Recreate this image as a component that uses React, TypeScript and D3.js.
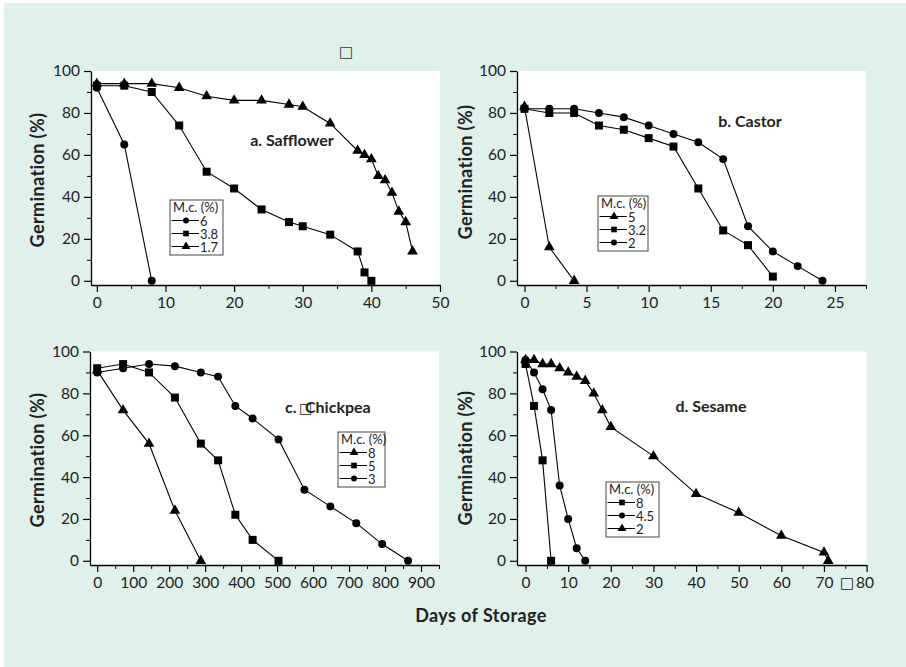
import * as d3 from "d3";
import { useEffect, useRef } from "react";

const W = 906;
const H = 667;
const FONT = "Lato, 'Open Sans', sans-serif";

// a. Safflower (days)
const safDays6 = [0, 4, 8];
const safGerm6 = [92, 65, 0];
const safDays38 = [0, 4, 8, 12, 16, 20, 24, 28, 30, 34, 38, 39, 40];
const safGerm38 = [93, 93, 90, 74, 52, 44, 34, 28, 26, 22, 14, 4, 0];
const safDays17 = [0, 4, 8, 12, 16, 20, 24, 28, 30, 34, 38, 39, 40, 41, 42, 43, 44, 45, 46];
const safGerm17 = [94, 94, 94, 92, 88, 86, 86, 84, 83, 75, 62, 60, 58, 50, 48, 42, 33, 28, 14];

// b. Castor
const casDays5 = [0, 2, 4];
const casGerm5 = [83, 16, 0];
const casDays32 = [0, 2, 4, 6, 8, 10, 12, 14, 16, 18, 20];
const casGerm32 = [82, 80, 80, 74, 72, 68, 64, 44, 24, 17, 2];
const casDays2 = [0, 2, 4, 6, 8, 10, 12, 14, 16, 18, 20, 22, 24];
const casGerm2 = [82, 82, 82, 80, 78, 74, 70, 66, 58, 26, 14, 7, 0];

// c. Chickpea
const chiDays8 = [0, 72, 144, 216, 288];
const chiGerm8 = [91, 72, 56, 24, 0];
const chiDays5 = [0, 72, 144, 216, 288, 336, 384, 432, 504];
const chiGerm5 = [92, 94, 90, 78, 56, 48, 22, 10, 0];
const chiDays3 = [0, 72, 144, 216, 288, 336, 384, 432, 504, 576, 648, 720, 792, 864];
const chiGerm3 = [90, 92, 94, 93, 90, 88, 74, 68, 58, 34, 26, 18, 8, 0];

// d. Sesame
const sesDays8 = [0, 2, 4, 6];
const sesGerm8 = [94, 74, 48, 0];
const sesDays45 = [0, 2, 4, 6, 8, 10, 12, 14];
const sesGerm45 = [96, 90, 82, 72, 36, 20, 6, 0];
const sesDays2 = [0, 2, 4, 6, 8, 10, 12, 14, 16, 18, 20, 30, 40, 50, 60, 70, 71];
const sesGerm2 = [96, 96, 94, 94, 92, 90, 88, 86, 80, 72, 64, 50, 32, 23, 12, 4, 0];

const yMajor = [0, 20, 40, 60, 80, 100];
const yMinor = [10, 30, 50, 70, 90];

const SHAPES: Record<string, d3.SymbolType> = {
  circle: d3.symbolCircle,
  square: d3.symbolSquare,
  triangle: d3.symbolTriangle,
};
const SIZE: Record<string, number> = { circle: 50, square: 64, triangle: 50 };
const LEG_SIZE: Record<string, number> = { circle: 28, square: 32, triangle: 34 };

const panels = [
  {
    title: ["a. Safflower"], titleX: 292, titleY: 146,
    xDomain: [-0.85, 50], xRange: [91, 440], yRange: [285, 71],
    xMajor: [0, 10, 20, 30, 40, 50], xMinor: [5, 15, 25, 35, 45],
    legX: 170, legY: 200, legW: 53,
    ylabX: 44, ylabY: 180,
    series: [
      { xs: safDays6, ys: safGerm6, shape: "circle", label: "6" },
      { xs: safDays38, ys: safGerm38, shape: "square", label: "3.8" },
      { xs: safDays17, ys: safGerm17, shape: "triangle", label: "1.7" },
    ],
  },
  {
    title: ["b. Castor"], titleX: 750, titleY: 127,
    xDomain: [-0.6, 27.5], xRange: [517, 866], yRange: [285, 71],
    xMajor: [0, 5, 10, 15, 20, 25], xMinor: [2.5, 7.5, 12.5, 17.5, 22.5, 27.5],
    legX: 598, legY: 196, legW: 50,
    ylabX: 472, ylabY: 172,
    series: [
      { xs: casDays5, ys: casGerm5, shape: "triangle", label: "5" },
      { xs: casDays32, ys: casGerm32, shape: "square", label: "3.2" },
      { xs: casDays2, ys: casGerm2, shape: "circle", label: "2" },
    ],
  },
  {
    title: ["c.", "\u25A1", "Chickpea"], titleX: 285, titleY: 413,
    xDomain: [-20, 950], xRange: [90, 439], yRange: [565, 351.5],
    xMajor: [0, 100, 200, 300, 400, 500, 600, 700, 800, 900],
    xMinor: [50, 150, 250, 350, 450, 550, 650, 750, 850, 950],
    legX: 338, legY: 432, legW: 47,
    ylabX: 44, ylabY: 460,
    series: [
      { xs: chiDays8, ys: chiGerm8, shape: "triangle", label: "8" },
      { xs: chiDays5, ys: chiGerm5, shape: "square", label: "5" },
      { xs: chiDays3, ys: chiGerm3, shape: "circle", label: "3" },
    ],
  },
  {
    title: ["d. Sesame"], titleX: 711, titleY: 412,
    xDomain: [-2, 80], xRange: [517, 866.6], yRange: [565, 351.5],
    xMajor: [0, 10, 20, 30, 40, 50, 60, 70, 80], xMinor: [5, 15, 25, 35, 45, 55, 65, 75],
    legX: 606, legY: 482, legW: 53,
    ylabX: 472, ylabY: 458,
    series: [
      { xs: sesDays8, ys: sesGerm8, shape: "square", label: "8" },
      { xs: sesDays45, ys: sesGerm45, shape: "circle", label: "4.5" },
      { xs: sesDays2, ys: sesGerm2, shape: "triangle", label: "2" },
    ],
  },
];

export default function App() {
  const ref = useRef<SVGSVGElement>(null);

  useEffect(() => {
    const svg = d3.select(ref.current);
    svg.selectAll("*").remove();

    svg.append("rect").attr("width", W).attr("height", H).attr("fill", "#fff");
    svg.append("rect")
      .attr("x", 4).attr("y", 3)
      .attr("width", W - 4).attr("height", H - 3)
      .attr("fill", "#e0f0ea");

    svg.append("text")
      .attr("x", 346).attr("y", 57)
      .attr("text-anchor", "middle")
      .attr("font-family", "'DejaVu Sans'")
      .attr("font-size", 15)
      .attr("fill", "#333")
      .text("\u25A1");

    panels.forEach((p) => {
      const x = d3.scaleLinear().domain(p.xDomain).range(p.xRange);
      const y = d3.scaleLinear().domain([-2, 100]).range(p.yRange);
      const g = svg.append("g");

      g.append("rect")
        .attr("x", p.xRange[0]).attr("y", p.yRange[1])
        .attr("width", p.xRange[1] - p.xRange[0])
        .attr("height", p.yRange[0] - p.yRange[1])
        .attr("fill", "#fff");

      // minor ticks
      g.append("g")
        .attr("transform", `translate(0,${p.yRange[0]})`)
        .call(d3.axisBottom(x).tickValues(p.xMinor).tickSize(4).tickSizeOuter(0).tickFormat(() => ""))
        .call((a) => a.select(".domain").remove());
      g.append("g")
        .attr("transform", `translate(${p.xRange[0]},0)`)
        .call(d3.axisLeft(y).tickValues(yMinor).tickSize(4).tickSizeOuter(0).tickFormat(() => ""))
        .call((a) => a.select(".domain").remove());

      const xAxis = g.append("g")
        .attr("transform", `translate(0,${p.yRange[0]})`)
        .call(d3.axisBottom(x).tickValues(p.xMajor).tickSize(7).tickPadding(5).tickSizeOuter(0).tickFormat(d3.format("d")));
      const yAxis = g.append("g")
        .attr("transform", `translate(${p.xRange[0]},0)`)
        .call(d3.axisLeft(y).tickValues(yMajor).tickSize(7).tickPadding(4).tickSizeOuter(0).tickFormat(d3.format("d")));

      [xAxis, yAxis].forEach((a) => {
        a.selectAll("text").attr("font-family", FONT).attr("font-size", 15.5).attr("fill", "#222");
        a.selectAll("line").attr("stroke", "#000").attr("stroke-width", 1.2);
        a.select(".domain").attr("stroke", "#000").attr("stroke-width", 1.3);
      });
      if (p.xDomain[1] === 80) {
        const t80 = xAxis.selectAll<SVGTextElement, number>("text")
          .filter((d) => d === 80)
          .attr("text-anchor", "end").attr("x", 7)
          .text("");
        t80.append("tspan").attr("font-family", "'DejaVu Sans'").attr("font-size", 15).text("\u25A1");
        t80.append("tspan").attr("dx", 2).text("80");
      }

      const line = d3.line<[number, number]>().x((d) => x(d[0])).y((d) => y(d[1]));

      p.series.forEach((s) => {
        const pts = s.xs.map((v, i) => [v, s.ys[i]] as [number, number]);
        g.append("path")
          .attr("d", line(pts))
          .attr("fill", "none")
          .attr("stroke", "#000")
          .attr("stroke-width", 1.1);
        g.selectAll(null)
          .data(pts)
          .join("path")
          .attr("d", d3.symbol().type(SHAPES[s.shape]).size(SIZE[s.shape]))
          .attr("transform", (d) => `translate(${x(d[0])},${y(d[1])})`)
          .attr("fill", "#000");
      });

      // title
      const t = g.append("text")
        .attr("y", p.titleY)
        .attr("font-family", FONT)
        .attr("font-weight", "bold")
        .attr("font-size", 16)
        .attr("fill", "#222");
      if (p.title.length === 1) {
        t.attr("x", p.titleX).attr("text-anchor", "middle").text(p.title[0]);
      } else {
        t.append("tspan").attr("x", p.titleX).text(p.title[0]);
        t.append("tspan").attr("x", p.titleX + 14).attr("font-family", "'DejaVu Sans'").attr("font-weight", "normal").attr("font-size", 14).text(p.title[1]);
        t.append("tspan").attr("x", p.titleX + 20).text(p.title[2]);
      }

      // legend
      const lg = g.append("g").attr("transform", `translate(${p.legX},${p.legY})`);
      lg.append("rect")
        .attr("width", p.legW).attr("height", 55)
        .attr("fill", "#fff").attr("stroke", "#444").attr("stroke-width", 1);
      lg.append("text")
        .attr("x", 3).attr("y", 12)
        .attr("font-family", FONT).attr("font-size", 13).attr("fill", "#222")
        .text("M.c. (%)");
      p.series.forEach((s, i) => {
        const ry = 20.5 + i * 13;
        lg.append("line").attr("x1", 1.5).attr("x2", 29).attr("y1", ry).attr("y2", ry)
          .attr("stroke", "#000").attr("stroke-width", 1);
        lg.append("path")
          .attr("d", d3.symbol().type(SHAPES[s.shape]).size(LEG_SIZE[s.shape])())
          .attr("transform", `translate(16,${ry})`)
          .attr("fill", "#000");
        lg.append("text")
          .attr("x", 30).attr("y", ry + 5)
          .attr("font-family", FONT).attr("font-size", 13).attr("fill", "#222")
          .text(s.label);
      });

      // y label
      g.append("text")
        .attr("transform", `translate(${p.ylabX},${p.ylabY}) rotate(-90)`)
        .attr("text-anchor", "middle")
        .attr("font-family", FONT)
        .attr("font-weight", "bold")
        .attr("font-size", 18)
        .attr("letter-spacing", 0.4)
        .attr("fill", "#222")
        .text("Germination (%)");
    });

    svg.append("text")
      .attr("x", 481).attr("y", 622)
      .attr("text-anchor", "middle")
      .attr("font-family", FONT)
      .attr("font-weight", "bold")
      .attr("font-size", 18)
      .attr("letter-spacing", 0.4)
      .attr("fill", "#222")
      .text("Days of Storage");

    return () => { svg.selectAll("*").remove(); };
  }, []);

  return (
    <svg
      ref={ref}
      width={W}
      height={H}
      style={{ position: "absolute", left: 0, top: 0, display: "block" }}
    />
  );
}
